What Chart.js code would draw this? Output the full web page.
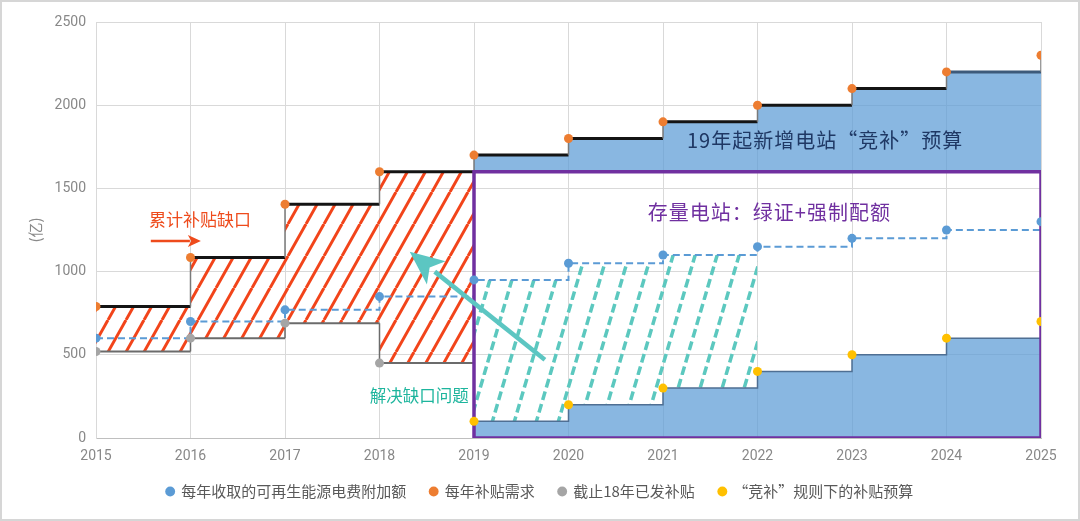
<!DOCTYPE html>
<html>
<head>
<meta charset="utf-8">
<script src="https://cdn.jsdelivr.net/npm/chart.js@4.4.1/dist/chart.umd.min.js"></script>
<style>
  html, body { margin: 0; padding: 0; background: #ffffff; }
  #wrap { width: 1080px; height: 521px; position: relative; }
</style>
</head>
<body>
<div id="wrap"><canvas id="c" width="1080" height="521"></canvas></div>
<script>
// ---------------- data ----------------
const years = [2015, 2016, 2017, 2018, 2019, 2020, 2021, 2022, 2023, 2024, 2025];
const chargeValues = [600, 700, 770, 850, 950, 1050, 1100, 1150, 1200, 1250, 1300];   // 每年收取的可再生能源电费附加额
const demandValues = [790, 1085, 1405, 1600, 1700, 1800, 1900, 2000, 2100, 2200, 2300]; // 每年补贴需求
const paidYears = [2015, 2016, 2017, 2018, 2019];
const paidValues = [520, 600, 690, 450, 100];                                          // 截止18年已发补贴
const bidYears = [2019, 2020, 2021, 2022, 2023, 2024, 2025];
const bidValues = [100, 200, 300, 400, 500, 600, 700];                                 // “竞补”规则下的补贴预算
const yTicks = [0, 500, 1000, 1500, 2000, 2500];

const seriesNames = ['每年收取的可再生能源电费附加额', '每年补贴需求', '截止18年已发补贴', '“竞补”规则下的补贴预算'];
const gapStart = 2015, gapEnd = 2019;       // 累计补贴缺口区
const solveStart = 2019, solveEnd = 2022;   // 解决缺口区
const boxX = [2019, 2025];                   // 存量电站框
const boxY = [0, 1600];

const labels = [
  { text: '累计补贴缺口', x: 2016.1, y: 1310, color: '#EE4B1C', size: 17, spacing: 0 },
  { text: '解决缺口问题', x: 2018.42, y: 252, color: '#1DB59D', size: 16.5, spacing: 0 },
  { text: '19年起新增电站“竞补”预算', x: 2022.71, y: 1791, color: '#1F3864', size: 20, spacing: 1 },
  { text: '存量电站：绿证+强制配额', x: 2022.12, y: 1358, color: '#7030A0', size: 20, spacing: 1 }
];
const arrows = [
  { from: [2015.58, 1184], to: [2016.11, 1184], color: '#EE4B1C', width: 2.5, head: 13, headW: 12 },
  { from: [2019.75, 470], to: [2018.32, 1120], color: '#5CC6C2', width: 4.5, head: 34, headW: 30 }
];

// ---------------- helpers ----------------
function stepPoints(xs, ys, startIdx, endIdx, endX, finalRise) {
  const pts = [];
  for (let i = startIdx; i <= endIdx; i++) {
    pts.push({ x: xs[i], y: ys[i] });
    pts.push({ x: (i < endIdx ? xs[i + 1] : endX), y: ys[i] });
  }
  if (finalRise !== undefined) pts.push({ x: endX, y: finalRise });
  return pts;
}
function pointsOf(xs, ys) { return xs.map((x, i) => ({ x: x, y: ys[i] })); }

function makeHatch(color, width, spacing, slope, dashParts) {
  const w = spacing, h = Math.round(spacing * slope);
  const cv = document.createElement('canvas');
  cv.width = w; cv.height = h;
  const g = cv.getContext('2d');
  g.strokeStyle = color; g.lineWidth = width; g.lineCap = 'butt';
  if (dashParts) {
    const L = Math.sqrt(w * w + h * h);
    const period = L / dashParts.n;
    g.setLineDash([period * dashParts.on, period * (1 - dashParts.on)]);
  }
  for (const k of [-1, 0, 1]) {
    g.beginPath();
    g.moveTo(k * w, h);
    g.lineTo(k * w + w, 0);
    g.stroke();
  }
  return g.createPattern(cv, 'repeat');
}

const redHatch = makeHatch('#F2441A', 3, 18, 1.8);
const tealHatch = makeHatch('#5CC8BF', 3.5, 22, 3.4, { n: 6, on: 0.68 });
const blueFill = 'rgba(91,155,213,0.72)';

const i2019 = years.indexOf(2019);
const i2022 = years.indexOf(solveEnd);
const iBid2022 = bidYears.indexOf(solveEnd);

// step lines
const demandStep = stepPoints(years, demandValues, 0, years.length - 2, 2025, demandValues[years.length - 1]);
const chargeStep = stepPoints(years, chargeValues, 0, years.length - 2, 2025, chargeValues[years.length - 1]);
const paidStep = stepPoints(paidYears, paidValues, 0, paidYears.length - 2, gapEnd, paidValues[paidYears.length - 1]);
const bidStep = stepPoints(bidYears, bidValues, 0, bidYears.length - 2, 2025, bidValues[bidYears.length - 1]);

// fill boundaries
const gapTop = stepPoints(years, demandValues, 0, years.indexOf(gapEnd) - 1, gapEnd);
const gapBottom = stepPoints(paidYears, paidValues, 0, paidYears.indexOf(gapEnd) - 1, gapEnd);
const solveTop = stepPoints(years, chargeValues, i2019, i2022 - 1, solveEnd);
const solveBottom = stepPoints(bidYears, bidValues, 0, iBid2022 - 1, solveEnd);
const newTop = stepPoints(years, demandValues, i2019, years.length - 2, 2025);
const boxTop = [{ x: boxX[0], y: boxY[1] }, { x: boxX[1], y: boxY[1] }];
const boxPath = [
  { x: boxX[0], y: boxY[0] }, { x: boxX[0], y: boxY[1] },
  { x: boxX[1], y: boxY[1] }, { x: boxX[1], y: boxY[0] }, { x: boxX[0], y: boxY[0] }
];

const isVert = c => c.p0.parsed.x === c.p1.parsed.x;

const base = { pointRadius: 0, pointHoverRadius: 0, tension: 0 };
const dotStyle = { showLine: false, pointRadius: 4.5, pointHoverRadius: 4.5, borderWidth: 0 };
const dsets = [
  // dots (top)
  Object.assign({ label: seriesNames[0], data: pointsOf(years, chargeValues), backgroundColor: '#5B9BD5', borderColor: '#5B9BD5', order: 0 }, dotStyle),
  Object.assign({ label: seriesNames[1], data: pointsOf(years, demandValues), backgroundColor: '#ED7D31', borderColor: '#ED7D31', order: 1 }, dotStyle),
  Object.assign({ label: seriesNames[2], data: pointsOf(paidYears.slice(0, 4), paidValues.slice(0, 4)), backgroundColor: '#A5A5A5', borderColor: '#A5A5A5', order: 2 }, dotStyle),
  Object.assign({ label: seriesNames[3], data: pointsOf(bidYears, bidValues), backgroundColor: '#FFC000', borderColor: '#FFC000', order: 3 }, dotStyle),
  // purple box
  Object.assign({}, base, { label: 'box', data: boxPath, borderColor: '#7030A0', borderWidth: 3.5, fill: false, order: 4 }),
  // demand step
  Object.assign({}, base, { label: 'demandStep', data: demandStep, borderColor: '#111', borderWidth: 3, fill: false, order: 5,
    segment: {
      borderColor: c => isVert(c) ? '#7a7a7a' : (c.p0.parsed.x >= 2024 ? '#3d5a7a' : '#141414'),
      borderWidth: c => isVert(c) ? 1.5 : 3
    } }),
  // charge dashed step
  Object.assign({}, base, { label: 'chargeStep', data: chargeStep, borderColor: '#5B9BD5', borderWidth: 2, borderDash: [7, 4], fill: false, order: 6 }),
  // paid step
  Object.assign({}, base, { label: 'paidStep', data: paidStep, borderColor: '#6b6b6b', borderWidth: 2, fill: false, order: 7,
    segment: { borderWidth: c => isVert(c) ? 1.5 : 2 } }),
  // bid step with blue fill to origin
  Object.assign({}, base, { label: 'bidStep', data: bidStep, borderColor: '#4f6f93', borderWidth: 1.5, fill: 'origin', backgroundColor: blueFill, order: 8 }),
  // new stations fill (demand to box top)
  Object.assign({}, base, { label: 'newTop', data: newTop, borderColor: 'rgba(0,0,0,0)', borderWidth: 0, fill: { target: 10 }, backgroundColor: blueFill, order: 9 }),
  Object.assign({}, base, { label: 'boxTop', data: boxTop, borderColor: 'rgba(0,0,0,0)', borderWidth: 0, fill: false, order: 10 }),
  // teal hatch
  Object.assign({}, base, { label: 'solveTop', data: solveTop, borderColor: 'rgba(0,0,0,0)', borderWidth: 0, fill: { target: 12 }, backgroundColor: tealHatch, order: 11 }),
  Object.assign({}, base, { label: 'solveBottom', data: solveBottom, borderColor: 'rgba(0,0,0,0)', borderWidth: 0, fill: false, order: 12 }),
  // red hatch
  Object.assign({}, base, { label: 'gapTop', data: gapTop, borderColor: 'rgba(0,0,0,0)', borderWidth: 0, fill: { target: 14 }, backgroundColor: redHatch, order: 13 }),
  Object.assign({}, base, { label: 'gapBottom', data: gapBottom, borderColor: 'rgba(0,0,0,0)', borderWidth: 0, fill: false, order: 14 })
];

const annotate = {
  id: 'annotate',
  beforeDraw(chart) {
    const ctx = chart.ctx;
    ctx.save();
    ctx.fillStyle = '#ffffff';
    ctx.fillRect(0, 0, chart.width, chart.height);
    ctx.strokeStyle = '#d6d6d6';
    ctx.lineWidth = 2;
    ctx.strokeRect(1, 1, chart.width - 2, chart.height - 2);
    ctx.restore();
  },
  afterLayout(chart) {
    // let the x tick labels extend below the compact axis box
    chart.scales.x.bottom = chart.height;
  },
  afterDatasetsDraw(chart) {
    const ctx = chart.ctx, xs = chart.scales.x, ys = chart.scales.y;
    ctx.save();
    for (const a of arrows) {
      const x0 = xs.getPixelForValue(a.from[0]), y0 = ys.getPixelForValue(a.from[1]);
      const x1 = xs.getPixelForValue(a.to[0]), y1 = ys.getPixelForValue(a.to[1]);
      const ang = Math.atan2(y1 - y0, x1 - x0);
      const bx = x1 - Math.cos(ang) * a.head, by = y1 - Math.sin(ang) * a.head;
      ctx.strokeStyle = a.color; ctx.fillStyle = a.color; ctx.lineWidth = a.width;
      ctx.beginPath(); ctx.moveTo(x0, y0); ctx.lineTo(bx + Math.cos(ang) * 2, by + Math.sin(ang) * 2); ctx.stroke();
      const px = -Math.sin(ang) * a.headW / 2, py = Math.cos(ang) * a.headW / 2;
      ctx.beginPath();
      ctx.moveTo(x1, y1);
      ctx.lineTo(bx + px, by + py);
      ctx.lineTo(bx + Math.cos(ang) * a.head * 0.25, by + Math.sin(ang) * a.head * 0.25);
      ctx.lineTo(bx - px, by - py);
      ctx.closePath(); ctx.fill();
    }
    ctx.textAlign = 'center'; ctx.textBaseline = 'middle';
    for (const l of labels) {
      ctx.font = l.size + 'px "Noto Sans CJK SC", sans-serif';
      ctx.letterSpacing = l.spacing + 'px';
      ctx.fillStyle = l.color;
      ctx.fillText(l.text, xs.getPixelForValue(l.x) + l.spacing / 2, ys.getPixelForValue(l.y));
    }
    ctx.restore();
  }
};

new Chart(document.getElementById('c'), {
  type: 'line',
  data: { datasets: dsets },
  plugins: [annotate],
  options: {
    responsive: false,
    animation: false,
    events: [],
    layout: { padding: { left: 0, right: 0, top: 22, bottom: 12 } },
    elements: { line: { tension: 0 } },
    plugins: {
      tooltip: { enabled: false },
      legend: {
        position: 'bottom',
        labels: {
          filter: item => item.datasetIndex <= 3,
          usePointStyle: true,
          pointStyle: 'circle',
          boxWidth: 7, boxHeight: 7,
          padding: 24,
          color: '#595959',
          font: { family: '"Noto Sans CJK SC", sans-serif', size: 15 }
        }
      }
    },
    scales: {
      x: {
        type: 'linear', min: 2015, max: 2025,
        grid: { color: '#d9d9d9', lineWidth: 1, drawTicks: false },
        border: { color: '#bfbfbf' },
        ticks: { stepSize: 1, padding: 10, color: '#888888', font: { family: 'Roboto, sans-serif', size: 14 },
          callback: v => String(v) },
        afterFit: s => { s.height = 22; }
      },
      y: {
        min: 0, max: 2500,
        grid: { color: '#d9d9d9', lineWidth: 1, drawTicks: false },
        border: { color: '#d9d9d9' },
        afterBuildTicks: s => { s.ticks = yTicks.map(v => ({ value: v })); },
        ticks: { padding: 10, color: '#888888', font: { family: 'Roboto, sans-serif', size: 14 }, callback: v => String(v) },
        title: { display: true, text: '(亿)', color: '#8a8a8a', font: { family: '"Noto Sans CJK SC", sans-serif', size: 15 }, padding: { top: 26, bottom: 0 } },
        afterFit: s => { s.width = 96; }
      },
      yRight: {
        position: 'right', min: 0, max: 2500,
        grid: { drawOnChartArea: false, drawTicks: false },
        border: { display: false },
        ticks: { display: false },
        afterFit: s => { s.width = 39; }
      }
    }
  }
});
</script>
</body>
</html>
